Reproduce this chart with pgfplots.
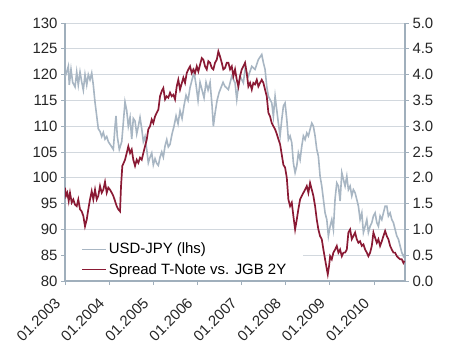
\documentclass[border=0pt]{standalone}
\usepackage{fontspec}
\setmainfont{Liberation Sans}
\usepackage{pgfplots}
\pgfplotsset{compat=1.18}
\definecolor{axgray}{RGB}{160,175,188}
\definecolor{gridgray}{RGB}{210,216,222}
\definecolor{usdgray}{RGB}{168,182,195}
\definecolor{spreadred}{RGB}{138,26,52}
\begin{document}
\begin{tikzpicture}
\pgfplotsset{
  base/.style={
    scale only axis, width=340bp, height=258bp,
    xmin=2003, xmax=2010.7,
    axis line style={axgray, line width=1.2bp},
    tick style={axgray, line width=1bp},
    major tick length=4bp,
    tick align=outside,
    ticklabel style={font=\fontsize{15}{17}\selectfont, text=black!85},
    /pgf/number format/assume math mode=true,
  }
}
\begin{axis}[base, name=ax,
  axis x line*=bottom, axis y line*=left,
  ymin=80, ymax=130, ytick={80,85,...,130},
  ymajorgrids, grid style={gridgray, line width=0.9bp},
  xtick={2003,2004,2005,2006,2007,2008,2009,2010},
  xticklabels={01.2003,01.2004,01.2005,01.2006,01.2007,01.2008,01.2009,01.2010},
  x tick label style={xshift=-5bp, yshift=-13bp, rotate=45, anchor=east},
  legend style={at={(rel axis cs:0.003,0.004)}, anchor=south west, draw=none, fill=white,
    font=\fontsize{15}{17}\selectfont, cells={anchor=west}, inner xsep=15bp, inner ysep=2bp, row sep=4bp},
  legend image code/.code={\draw[#1] (0bp,0bp) -- (24bp,0bp);},
]
\addplot[usdgray, line width=1.6bp] coordinates {
(2003.000,119.5)(2003.039,120.5)(2003.075,121.6)(2003.097,118)(2003.136,121)(2003.174,118.5)
(2003.227,117.6)(2003.265,120.5)(2003.301,118)(2003.340,120.5)(2003.378,118.6)(2003.415,117)
(2003.453,120)(2003.492,118)(2003.528,120)(2003.566,119)(2003.605,120.3)(2003.641,118)
(2003.680,114.6)(2003.718,112)(2003.754,109.5)(2003.793,109)(2003.831,108)(2003.868,108.8)
(2003.906,107.5)(2003.945,108)(2003.981,107)(2004.019,106.5)(2004.058,106)(2004.094,105.5)
(2004.133,110)(2004.155,112)(2004.185,108)(2004.230,105.5)(2004.285,107)(2004.314,110)
(2004.359,114.7)(2004.398,113)(2004.434,110)(2004.473,111.7)(2004.511,107.5)(2004.547,111.5)
(2004.586,111)(2004.624,108.5)(2004.661,110)(2004.699,111.7)(2004.738,109.5)(2004.774,107)
(2004.812,108)(2004.851,105.5)(2004.887,102.9)(2004.926,104)(2004.964,104.8)(2005.000,102.5)
(2005.039,103.7)(2005.077,102.8)(2005.114,102.4)(2005.152,104)(2005.191,105)(2005.227,104)
(2005.266,106.2)(2005.304,107.4)(2005.340,106)(2005.379,106.5)(2005.424,108.5)(2005.469,110)
(2005.515,112)(2005.560,110.5)(2005.605,113)(2005.651,111.5)(2005.696,114)(2005.741,116)
(2005.787,115)(2005.832,117.5)(2005.877,119)(2005.922,120.5)(2005.968,118)(2006.013,115)
(2006.058,118.5)(2006.104,117)(2006.149,115.5)(2006.194,118.5)(2006.240,117)(2006.285,118.5)
(2006.330,114)(2006.360,110)(2006.398,112.5)(2006.444,115)(2006.489,116.5)(2006.534,117.5)
(2006.579,118.5)(2006.625,117.7)(2006.700,117.1)(2006.777,119.7)(2006.851,118.4)(2006.890,115.2)
(2006.926,117.7)(2006.965,119.7)(2007.039,118.4)(2007.078,121)(2007.153,119.7)(2007.230,121.6)
(2007.304,121)(2007.379,122.9)(2007.456,123.9)(2007.493,122.3)(2007.531,121)(2007.569,117.7)
(2007.606,115.8)(2007.683,114.5)(2007.719,111.9)(2007.758,115.8)(2007.832,110.6)(2007.871,108.1)
(2007.909,111.3)(2007.946,113.9)(2007.984,114.5)(2008.023,111.3)(2008.059,107.4)(2008.097,108.1)
(2008.136,106.8)(2008.172,102.9)(2008.211,101)(2008.249,102.3)(2008.285,104.8)(2008.324,103.5)
(2008.362,106.1)(2008.399,108.1)(2008.437,107.4)(2008.476,108.7)(2008.512,108.1)(2008.550,109.4)
(2008.589,110.6)(2008.625,110)(2008.664,108.1)(2008.702,105.5)(2008.738,104.2)(2008.777,100.3)
(2008.815,98.4)(2008.852,95.8)(2008.890,93.2)(2008.929,91.9)(2008.965,88.7)(2009.004,90.6)
(2009.042,91.9)(2009.078,90)(2009.117,96)(2009.155,99)(2009.192,98.4)(2009.230,95.5)
(2009.269,101)(2009.305,99.7)(2009.343,98.4)(2009.382,100.3)(2009.418,97.7)(2009.457,98.4)
(2009.495,96.5)(2009.531,97.7)(2009.570,97.1)(2009.608,95.8)(2009.645,94.5)(2009.683,91.9)
(2009.722,93.2)(2009.758,89.4)(2009.797,90.6)(2009.835,91.9)(2009.871,89.4)(2009.910,90.6)
(2009.948,91.3)(2009.985,92.6)(2010.023,93.2)(2010.062,91.3)(2010.098,90.6)(2010.136,92.6)
(2010.175,91.9)(2010.211,93.2)(2010.250,94.5)(2010.288,94.5)(2010.324,92.6)(2010.363,93.2)
(2010.401,91.9)(2010.438,91.3)(2010.476,90)(2010.515,88.7)(2010.551,88.1)(2010.589,86.8)
(2010.628,85.5)(2010.664,84.8)(2010.687,85.2)
};
\addlegendentry{USD-JPY (lhs)}
\addlegendimage{spreadred, line width=1.6bp}
\addlegendentry{Spread T-Note vs. JGB 2Y}
\end{axis}
\begin{axis}[base,
  axis x line=none, axis y line*=right,
  ymin=0, ymax=5, ytick={0,0.5,...,5},
  yticklabel style={/pgf/number format/.cd, fixed, fixed zerofill, precision=1},
]
\addplot[spreadred, line width=1.7bp] coordinates {
(2003.000,1.81)(2003.023,1.65)(2003.052,1.71)(2003.084,1.55)(2003.113,1.71)(2003.152,1.52)
(2003.188,1.58)(2003.227,1.48)(2003.265,1.45)(2003.301,1.58)(2003.340,1.39)(2003.378,1.35)
(2003.415,1.26)(2003.453,1.06)(2003.492,1.19)(2003.528,1.39)(2003.566,1.58)(2003.605,1.74)
(2003.641,1.58)(2003.680,1.77)(2003.718,1.58)(2003.754,1.65)(2003.793,1.84)(2003.831,1.71)
(2003.868,1.77)(2003.906,1.92)(2003.945,1.71)(2003.981,1.81)(2004.019,1.77)(2004.058,1.71)
(2004.094,1.65)(2004.133,1.55)(2004.171,1.45)(2004.207,1.39)(2004.246,1.35)(2004.269,1.84)
(2004.298,2.23)(2004.330,2.29)(2004.359,2.35)(2004.398,2.48)(2004.434,2.61)(2004.473,2.48)
(2004.511,2.55)(2004.547,2.35)(2004.586,2.23)(2004.624,2.35)(2004.661,2.29)(2004.699,2.39)
(2004.738,2.35)(2004.774,2.48)(2004.812,2.61)(2004.851,2.74)(2004.887,2.94)(2004.926,3.00)
(2004.964,3.13)(2005.000,3.06)(2005.039,3.19)(2005.077,3.26)(2005.114,3.32)(2005.152,3.58)
(2005.191,3.68)(2005.227,3.74)(2005.266,3.52)(2005.304,3.58)(2005.340,3.55)(2005.379,3.65)
(2005.417,3.58)(2005.453,3.61)(2005.492,3.52)(2005.530,3.77)(2005.566,3.90)(2005.605,3.71)
(2005.680,3.94)(2005.719,3.84)(2005.757,4.03)(2005.793,4.10)(2005.832,4.16)(2005.870,4.03)
(2005.907,4.10)(2005.945,4.03)(2005.984,4.16)(2006.020,4.06)(2006.058,4.19)(2006.097,4.32)
(2006.133,4.29)(2006.172,4.16)(2006.210,4.10)(2006.246,4.26)(2006.285,4.23)(2006.323,4.13)
(2006.360,4.10)(2006.398,4.23)(2006.437,4.29)(2006.473,4.45)(2006.511,4.35)(2006.550,4.23)
(2006.586,4.10)(2006.625,4.13)(2006.663,4.23)(2006.700,4.23)(2006.738,4.10)(2006.777,4.16)
(2006.813,3.97)(2006.851,4.10)(2006.890,3.90)(2006.926,3.77)(2006.965,3.97)(2007.003,4.10)
(2007.039,4.16)(2007.078,4.23)(2007.116,4.03)(2007.153,3.77)(2007.191,3.84)(2007.230,3.71)
(2007.266,3.84)(2007.304,3.81)(2007.343,3.90)(2007.379,3.77)(2007.418,3.84)(2007.456,3.90)
(2007.493,3.84)(2007.531,3.71)(2007.569,3.58)(2007.606,3.26)(2007.644,3.19)(2007.683,3.06)
(2007.719,3.00)(2007.758,2.94)(2007.796,2.85)(2007.832,2.75)(2007.871,2.65)(2007.909,2.45)
(2007.946,2.25)(2007.984,2.20)(2008.023,2.00)(2008.059,1.58)(2008.097,1.45)(2008.136,1.52)
(2008.172,1.26)(2008.211,1.00)(2008.249,1.19)(2008.285,1.39)(2008.324,1.58)(2008.362,1.65)
(2008.399,1.71)(2008.437,1.77)(2008.476,1.84)(2008.512,1.71)(2008.550,1.90)(2008.589,1.77)
(2008.625,1.65)(2008.664,1.45)(2008.702,1.19)(2008.738,1.00)(2008.777,0.87)(2008.815,0.81)
(2008.852,0.61)(2008.890,0.42)(2008.929,0.23)(2008.951,0.13)(2008.980,0.29)(2009.004,0.48)
(2009.042,0.42)(2009.078,0.55)(2009.117,0.61)(2009.155,0.68)(2009.192,0.55)(2009.230,0.61)
(2009.269,0.48)(2009.305,0.55)(2009.343,0.55)(2009.382,0.61)(2009.418,0.94)(2009.457,1.00)
(2009.495,0.81)(2009.531,0.87)(2009.570,0.94)(2009.608,0.81)(2009.645,0.74)(2009.683,0.77)
(2009.722,0.68)(2009.758,0.71)(2009.797,0.61)(2009.835,0.55)(2009.871,0.48)(2009.910,0.55)
(2009.948,0.68)(2009.985,0.94)(2010.023,0.84)(2010.062,0.74)(2010.098,0.81)(2010.136,0.68)
(2010.175,0.77)(2010.211,0.87)(2010.250,0.97)(2010.288,0.87)(2010.324,0.81)(2010.363,0.68)
(2010.401,0.61)(2010.438,0.55)(2010.476,0.55)(2010.515,0.48)(2010.551,0.45)(2010.589,0.42)
(2010.628,0.42)(2010.664,0.35)(2010.687,0.39)
};
\end{axis}
\pgfresetboundingbox
\path ([xshift=-65bp,yshift=-72bp]ax.south west) rectangle ([xshift=45bp,yshift=23bp]ax.north east);
\end{tikzpicture}
\end{document}
